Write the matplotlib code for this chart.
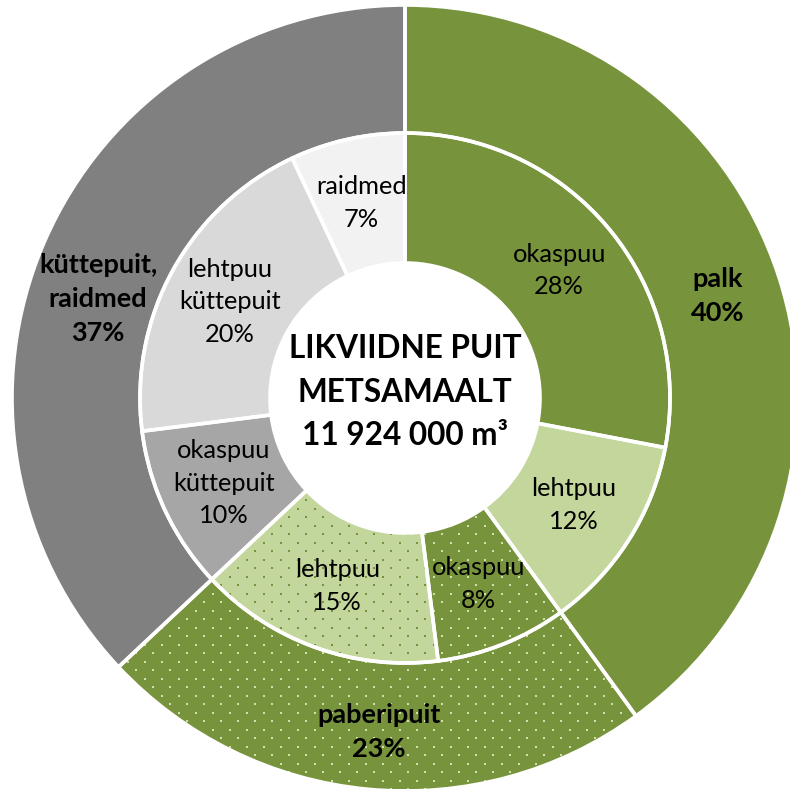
import matplotlib
matplotlib.use('Agg')
import matplotlib.pyplot as plt
import numpy as np

plt.rcParams['font.family'] = ['Lato', 'DejaVu Sans']

# Outer ring: main assortments
outer_labels = ['palk', 'paberipuit', 'küttepuit,\nraidmed']
outer_values = [40, 23, 37]
outer_colors = ['#77933C', '#77933C', '#808080']
outer_dot_colors = [None, '#CFDFAE', None]
outer_label_shift = [(0, 0), (5, -6), (-5, -32)]

# Inner ring: split by tree type
inner_labels = ['okaspuu', 'lehtpuu', 'okaspuu', 'lehtpuu',
                'okaspuu\nküttepuit', 'lehtpuu\nküttepuit', 'raidmed']
inner_values = [28, 12, 8, 15, 10, 20, 7]
inner_colors = ['#77933C', '#C3D69B', '#77933C', '#C3D69B',
                '#A6A6A6', '#D9D9D9', '#F2F2F2']
inner_dot_colors = [None, None, '#CFDFAE', '#77933C', None, None, None]
inner_label_shift = [(0, 0)] * 7

center_title = 'LIKVIIDNE PUIT\nMETSAMAALT\n11 924 000 m³'

CX, CY = 405, 391
R_OUT, R_MID, R_HOLE = 393, 265, 135

# dotted texture grid (pixel spacing like the Excel 5% pattern)
gx, gy = np.meshgrid(np.arange(0, 800, 17.0), np.arange(0, 800, 8.5))
gx = gx + (np.arange(gx.shape[0])[:, None] % 2) * 8.5
dot_x, dot_y = gx.ravel(), gy.ravel()


def draw_ring(ax, values, labels, colors, dot_colors, shifts, radius, width,
              labeldist, fontsize, weight):
    texts = [f"{lab}\n{v}%" for lab, v in zip(labels, values)]
    common = dict(startangle=90, counterclock=False, radius=radius,
                  center=(CX, CY))
    wedges, txts = ax.pie(
        values, colors=colors, wedgeprops=dict(width=width, linewidth=0),
        labels=texts, labeldistance=labeldist,
        textprops=dict(ha='center', va='center', fontsize=fontsize,
                       fontweight=weight, color='black', linespacing=1.5),
        **common)
    for t, (dx, dy) in zip(txts, shifts):
        x, y = t.get_position()
        t.set_position((x + dx, y + dy))
        t.set_zorder(5)
    # dotted pattern
    for w, dc in zip(wedges, dot_colors):
        if dc:
            sc = ax.scatter(dot_x, dot_y, s=2.2, marker='s', c=dc,
                            linewidths=0, zorder=2)
            sc.set_clip_path(w)
    # white separators
    ax.pie(values, colors=['none'] * len(values),
           wedgeprops=dict(width=width, edgecolor='white', linewidth=2.6,
                           zorder=3),
           **common)


fig = plt.figure(figsize=(7.9, 7.89), dpi=100)
ax = fig.add_axes([0, 0, 1, 1])

draw_ring(ax, outer_values, outer_labels, outer_colors, outer_dot_colors,
          outer_label_shift, R_OUT, R_OUT - R_MID,
          ((R_OUT + R_MID) / 2) / R_OUT, 19.5, 'bold')
draw_ring(ax, inner_values, inner_labels, inner_colors, inner_dot_colors,
          inner_label_shift, R_MID, R_MID - R_HOLE,
          ((R_MID + R_HOLE) / 2) / R_MID, 18.3, 'normal')

ax.text(CX, CY + 6, center_title, ha='center', va='center', fontsize=22.7,
        fontweight='bold', linespacing=1.6, zorder=5)

ax.set_xlim(0, 790)
ax.set_ylim(0, 789)
ax.set_aspect('equal')
ax.axis('off')

fig.savefig('out.png', dpi=100, facecolor='white')
